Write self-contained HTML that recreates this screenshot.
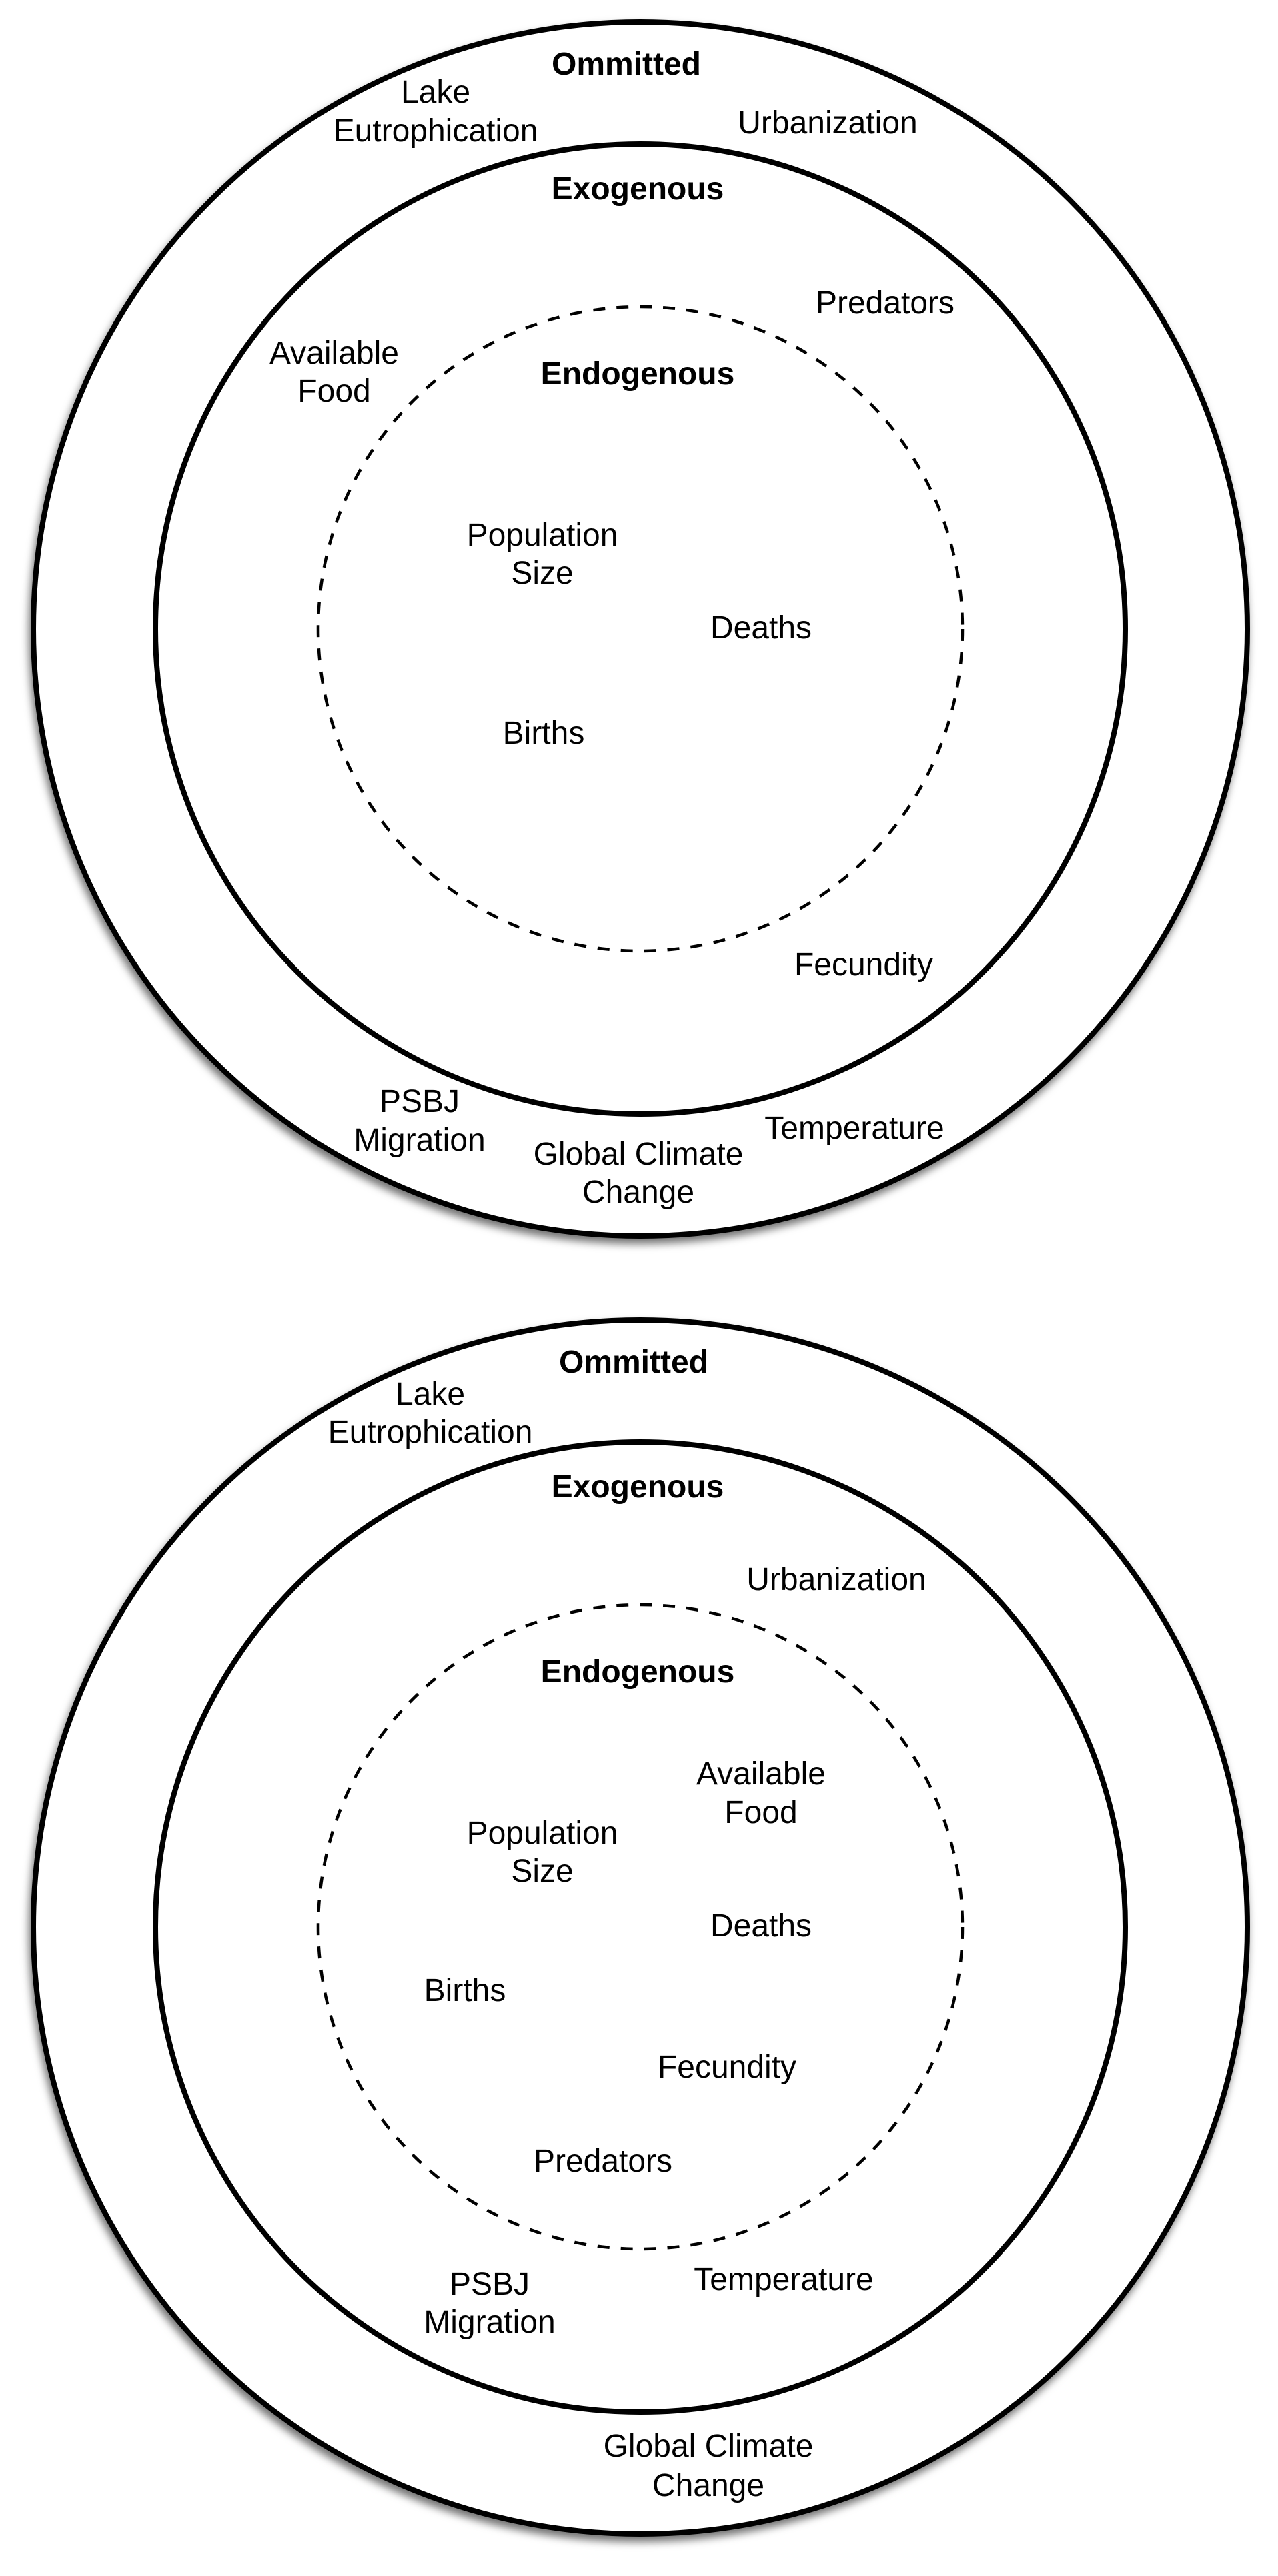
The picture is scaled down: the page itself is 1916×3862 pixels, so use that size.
<!DOCTYPE html>
<html>
<head>
<meta charset="utf-8">
<style>
html,body{margin:0;padding:0;background:#fff;}
svg{display:block;}
text{font-family:"Liberation Sans",Arial,sans-serif;font-size:48px;fill:#000;text-anchor:middle;}
.b{font-weight:bold;}
</style>
</head>
<body>
<svg width="1916" height="3862" viewBox="0 0 1916 3862" xmlns="http://www.w3.org/2000/svg">
<defs>
<filter id="sh" x="-10%" y="-10%" width="120%" height="120%">
<feDropShadow dx="-3" dy="8" stdDeviation="6" flood-color="#000" flood-opacity="0.55"/>
</filter>
</defs>

<!-- Top diagram -->
<g>
<circle cx="960" cy="943" r="910" fill="#fff" stroke="#000" stroke-width="8" filter="url(#sh)"/>
<circle cx="960" cy="943" r="727" fill="none" stroke="#000" stroke-width="8"/>
<circle cx="960" cy="943" r="483" fill="none" stroke="#000" stroke-width="4.5" stroke-dasharray="18 17"/>
<text class="b" x="939" y="112">Ommitted</text>
<text x="653" y="154">Lake</text>
<text x="653" y="212">Eutrophication</text>
<text x="1241" y="200">Urbanization</text>
<text class="b" x="956" y="299">Exogenous</text>
<text x="1327" y="470">Predators</text>
<text x="501" y="545">Available</text>
<text x="501" y="602">Food</text>
<text class="b" x="956" y="576">Endogenous</text>
<text x="813" y="818">Population</text>
<text x="813" y="875">Size</text>
<text x="1141" y="957">Deaths</text>
<text x="815" y="1115">Births</text>
<text x="1295" y="1462">Fecundity</text>
<text x="629" y="1667">PSBJ</text>
<text x="629" y="1725">Migration</text>
<text x="957" y="1746">Global Climate</text>
<text x="957" y="1803">Change</text>
<text x="1281" y="1707">Temperature</text>
</g>

<!-- Bottom diagram -->
<g>
<circle cx="960" cy="2889" r="910" fill="#fff" stroke="#000" stroke-width="8" filter="url(#sh)"/>
<circle cx="960" cy="2889" r="727" fill="none" stroke="#000" stroke-width="8"/>
<circle cx="960" cy="2889" r="483" fill="none" stroke="#000" stroke-width="4.5" stroke-dasharray="18 17"/>
<text class="b" x="950" y="2058">Ommitted</text>
<text x="645" y="2106">Lake</text>
<text x="645" y="2163">Eutrophication</text>
<text class="b" x="956" y="2245">Exogenous</text>
<text x="1254" y="2384">Urbanization</text>
<text class="b" x="956" y="2522">Endogenous</text>
<text x="1141" y="2675">Available</text>
<text x="1141" y="2733">Food</text>
<text x="813" y="2764">Population</text>
<text x="813" y="2821">Size</text>
<text x="1141" y="2903">Deaths</text>
<text x="697" y="3000">Births</text>
<text x="1090" y="3115">Fecundity</text>
<text x="904" y="3256">Predators</text>
<text x="734" y="3440">PSBJ</text>
<text x="734" y="3497">Migration</text>
<text x="1175" y="3433">Temperature</text>
<text x="1062" y="3683">Global Climate</text>
<text x="1062" y="3742">Change</text>
</g>
</svg>
</body>
</html>
